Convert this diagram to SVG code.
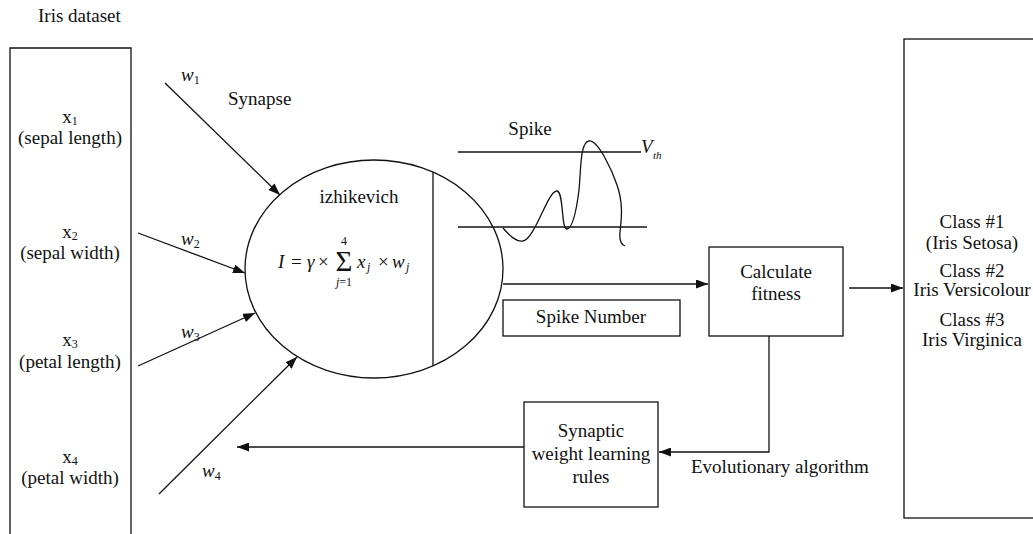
<svg xmlns="http://www.w3.org/2000/svg" width="1033" height="534" viewBox="0 0 1033 534">
<defs>
<style>
text{font-family:"Liberation Serif","Times New Roman",serif;font-size:19px;fill:#111}
.c{text-anchor:middle}
.it{font-style:italic}
.sub{font-size:12px}
.ln{stroke:#111;stroke-width:1.3;fill:none}
.bx{stroke:#111;stroke-width:1.3;fill:#fff}
</style>
<marker id="ah" viewBox="0 0 12 9" refX="12" refY="4.5" markerWidth="12" markerHeight="9" markerUnits="userSpaceOnUse" orient="auto">
<path d="M0,0 L12,4.5 L0,9 z" fill="#111"/>
</marker>
</defs>
<rect width="1033" height="534" fill="#fff"/>

<g id="dataset">
<text x="38" y="22">Iris dataset</text>
<path class="ln" d="M10,540 V48 H131 V540"/>
<text class="c" x="70" y="123">x<tspan class="sub" dy="2">1</tspan></text>
<text class="c" x="70" y="144">(sepal length)</text>
<text class="c" x="70" y="238">x<tspan class="sub" dy="2">2</tspan></text>
<text class="c" x="70" y="259">(sepal width)</text>
<text class="c" x="70" y="346">x<tspan class="sub" dy="2">3</tspan></text>
<text class="c" x="70" y="368">(petal length)</text>
<text class="c" x="70" y="463">x<tspan class="sub" dy="2">4</tspan></text>
<text class="c" x="70" y="484">(petal width)</text>
</g>

<g id="neuron">
<ellipse class="ln" cx="374" cy="269" rx="129" ry="109"/>
<line class="ln" x1="433" y1="172" x2="433" y2="366"/>
<text class="c" x="359" y="203">izhikevich</text>
<text x="278" y="268" class="it">I</text>
<text x="291" y="268">=</text>
<text x="307" y="268" class="it">γ</text>
<text x="318" y="268">×</text>
<text class="c" x="344" y="271" style="font-size:29px">Σ</text>
<text class="c sub" x="344" y="245">4</text>
<text class="c sub" x="344" y="286"><tspan class="it">j</tspan>=1</text>
<text x="357" y="268" class="it">x</text>
<text x="367" y="271" class="sub it">j</text>
<text x="378" y="268">×</text>
<text x="392" y="268" class="it">w</text>
<text x="406" y="271" class="sub it">j</text>
</g>

<g id="spike">
<text class="c" x="530" y="135">Spike</text>
<line class="ln" x1="458" y1="152" x2="641" y2="152"/>
<line class="ln" x1="458" y1="227" x2="647" y2="227"/>
<text x="641" y="153" class="it">V</text>
<text x="653" y="159" class="sub it" style="font-size:11px">th</text>
<path class="ln" d="M503,228 C510,236 516,242 523,241 C535,239 548,190 557,191 C564,192 561,230 567,229 C573,228 577,206 579,190 C581,170 580,142 589,141 C598,140 612,170 617,185 C624,205 621,222 620,232 C619,242 622,245 625,246"/>
</g>

<g id="synapse-labels">
<text x="228" y="105">Synapse</text>
<text x="181" y="81" class="it">w<tspan class="sub" dy="3" style="font-style:normal">1</tspan></text>
<text x="181" y="245" class="it">w<tspan class="sub" dy="3" style="font-style:normal">2</tspan></text>
<text x="181" y="338" class="it">w<tspan class="sub" dy="3" style="font-style:normal">3</tspan></text>
<text x="202" y="477" class="it">w<tspan class="sub" dy="3" style="font-style:normal">4</tspan></text>
</g>

<g id="spike-number">
<rect class="bx" x="503" y="300" width="177" height="36"/>
<text class="c" x="591" y="323">Spike Number</text>
</g>

<g id="fitness">
<rect class="bx" x="709" y="247" width="134" height="89"/>
<text class="c" x="776" y="278">Calculate</text>
<text class="c" x="776" y="300">fitness</text>
</g>

<g id="learning">
<rect class="bx" x="524" y="402" width="134" height="105"/>
<text class="c" x="591" y="437">Synaptic</text>
<text class="c" x="591" y="460">weight learning</text>
<text class="c" x="591" y="483">rules</text>
<text x="691" y="473">Evolutionary algorithm</text>
</g>

<g id="classes">
<rect class="bx" x="904" y="39" width="140" height="479"/>
<text class="c" x="972" y="228">Class #1</text>
<text class="c" x="972" y="249">(Iris Setosa)</text>
<text class="c" x="972" y="277">Class #2</text>
<text class="c" x="972" y="296">Iris Versicolour</text>
<text class="c" x="972" y="326">Class #3</text>
<text class="c" x="972" y="346">Iris Virginica</text>
</g>

<g id="connectors">
<line class="ln" x1="165" y1="83" x2="280" y2="195" marker-end="url(#ah)"/>
<line class="ln" x1="138" y1="233" x2="245" y2="273" marker-end="url(#ah)"/>
<line class="ln" x1="138" y1="366" x2="255" y2="313" marker-end="url(#ah)"/>
<line class="ln" x1="159" y1="494" x2="297" y2="357" marker-end="url(#ah)"/>
<line class="ln" x1="503" y1="284" x2="708" y2="284" marker-end="url(#ah)"/>
<line class="ln" x1="849" y1="288" x2="903" y2="288" marker-end="url(#ah)"/>
<path class="ln" d="M769,336 V452 H659" marker-end="url(#ah)"/>
<line class="ln" x1="524" y1="447" x2="237" y2="447" marker-end="url(#ah)"/>
</g>
</svg>
